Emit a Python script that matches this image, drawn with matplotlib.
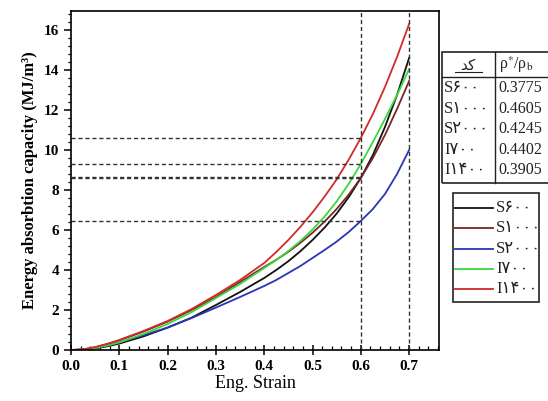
import numpy as np
import matplotlib
matplotlib.use('Agg')
from matplotlib import pyplot as plt
from matplotlib.lines import Line2D
from matplotlib.patches import Rectangle
from matplotlib.ticker import MultipleLocator, FormatStrFormatter

plt.rcParams['font.family'] = ['Liberation Serif', 'DejaVu Sans']
plt.rcParams['mathtext.fontset'] = 'stix'

strain = [0, 0.025, 0.05, 0.075, 0.1, 0.15, 0.2, 0.25, 0.3, 0.35, 0.4, 0.425, 0.45, 0.475,
          0.5, 0.525, 0.55, 0.575, 0.6, 0.625, 0.65, 0.675, 0.7]
s600 = [0, 0.01, 0.08, 0.18, 0.32, 0.68, 1.12, 1.62, 2.25, 2.9, 3.6, 4.0, 4.44, 4.94,
        5.5, 6.12, 6.82, 7.64, 8.6, 9.75, 11.15, 12.75, 14.6]
s1000 = [0, 0.03, 0.14, 0.3, 0.48, 0.92, 1.42, 2.0, 2.65, 3.4, 4.15, 4.51, 4.91, 5.36,
         5.86, 6.42, 7.05, 7.77, 8.6, 9.6, 10.75, 12.05, 13.45]
s2000 = [0, 0.02, 0.1, 0.22, 0.37, 0.74, 1.12, 1.6, 2.12, 2.65, 3.2, 3.5, 3.85, 4.2,
         4.6, 5.0, 5.42, 5.9, 6.45, 7.05, 7.8, 8.8, 10.0]
i700 = [0, 0.02, 0.1, 0.22, 0.38, 0.8, 1.3, 1.9, 2.6, 3.3, 4.1, 4.5, 4.95, 5.45,
        6.02, 6.67, 7.43, 8.31, 9.3, 10.4, 11.55, 12.75, 14.05]
i1400 = [0, 0.03, 0.14, 0.3, 0.5, 0.95, 1.45, 2.05, 2.75, 3.5, 4.35, 4.9, 5.5, 6.16,
         6.88, 7.67, 8.53, 9.52, 10.6, 11.8, 13.15, 14.65, 16.3]

labels = ['S\u06f6\u06f0\u06f0', 'S\u06f1\u06f0\u06f0\u06f0', 'S\u06f2\u06f0\u06f0\u06f0',
          'I\u06f7\u06f0\u06f0', 'I\u06f1\u06f4\u06f0\u06f0']
colors = ['#111111', '#7a2626', '#2a35b8', '#3ad83a', '#d02a2a']
density = ['0.3775', '0.4605', '0.4245', '0.4402', '0.3905']

h_levels = [10.6, 9.3, 8.65, 8.58, 6.45]
v_levels = [0.6, 0.7]

fig = plt.figure(figsize=(5.48, 4.01), dpi=100)
ax = fig.add_axes([0.1296, 0.1272, 0.6716, 0.8454])

series = [s600, s1000, s2000, i700, i1400]
for y, c, lab in zip(series, colors, labels):
    ax.plot(strain, y, color=c, lw=1.3, label=lab)

for h in h_levels:
    ax.plot([0, 0.6], [h, h], color='#333333', lw=1.0, ls=(0, (3, 2)))
for v in v_levels:
    ax.axvline(v, color='#333333', lw=1.0, ls=(0, (3, 2)))

ax.set_xlim(0, 0.762)
ax.set_ylim(0, 16.95)
ax.xaxis.set_major_locator(MultipleLocator(0.1))
ax.xaxis.set_minor_locator(MultipleLocator(0.02))
ax.yaxis.set_major_locator(MultipleLocator(2))
ax.yaxis.set_minor_locator(MultipleLocator(0.4))
ax.xaxis.set_major_formatter(FormatStrFormatter('%.1f'))
ax.tick_params(axis='x', which='major', direction='inout', length=7, width=1.1)
ax.tick_params(axis='x', which='minor', direction='in', length=3, width=0.9)
ax.tick_params(axis='y', which='major', direction='out', length=5, width=1.1)
ax.tick_params(axis='y', which='minor', direction='out', length=2.5, width=0.9)
for lab in ax.get_xticklabels() + ax.get_yticklabels():
    lab.set_fontweight('bold')
    lab.set_fontsize(11)
for sp in ax.spines.values():
    sp.set_linewidth(1.2)

ax.set_xlabel('Eng. Strain', fontsize=13, labelpad=2)
ax.set_ylabel('Energy absorbtion capacity (MJ/m\u00b3)', fontsize=12, fontweight='bold', labelpad=4)

# table on the right, placed in pixel coordinates
W, H = 548.0, 401.0
def fx(px):
    return px / W
def fy(py):
    return 1 - py / H

tx0, tx1, tcol = 442, 551, 495
ty0, ty1, thead = 52, 183, 77
fig.patches.append(Rectangle((fx(tx0), fy(ty1)), fx(tx1) - fx(tx0), fy(ty0) - fy(ty1),
                             transform=fig.transFigure, fill=False, lw=1.2, ec='#222222'))
fig.lines.append(Line2D([fx(tx0), fx(tx1)], [fy(thead), fy(thead)], transform=fig.transFigure,
                        color='#222222', lw=1.0))
fig.lines.append(Line2D([fx(tcol), fx(tcol)], [fy(ty0), fy(ty1)], transform=fig.transFigure,
                        color='#222222', lw=1.0))
fig.text(fx(468), fy(65), '\ufeaa\ufb90', ha='center', va='center', fontsize=11,
         family=['DejaVu Sans'], color='#222222')
fig.lines.append(Line2D([fx(455), fx(482)], [fy(72), fy(72)], transform=fig.transFigure,
                        color='#222222', lw=0.8))
fig.text(fx(499), fy(65), '\u03c1$^{*}$/\u03c1$_{\\mathrm{b}}$', ha='left', va='center',
         fontsize=11.5, color='#222222')
for i, (lab, d) in enumerate(zip(labels, density)):
    yy = fy(88 + i * 20.5)
    fig.text(fx(444), yy, lab, ha='left', va='center', fontsize=12, color='#222222')
    fig.text(fx(498), yy, d, ha='left', va='center', fontsize=11.5, color='#222222')

# legend box
fig.patches.append(Rectangle((fx(453), fy(302)), fx(539) - fx(453), fy(193) - fy(302),
                             transform=fig.transFigure, fill=False, lw=1.2, ec='#222222'))
for i, (lab, c) in enumerate(zip(labels, colors)):
    yy = fy(208 + i * 20.3)
    fig.lines.append(Line2D([fx(455), fx(493)], [yy, yy], transform=fig.transFigure,
                            color=c, lw=1.3))
    fig.text(fx(496), yy, lab, ha='left', va='center', fontsize=12, color='#222222')

fig.savefig('out.png', dpi=100)
